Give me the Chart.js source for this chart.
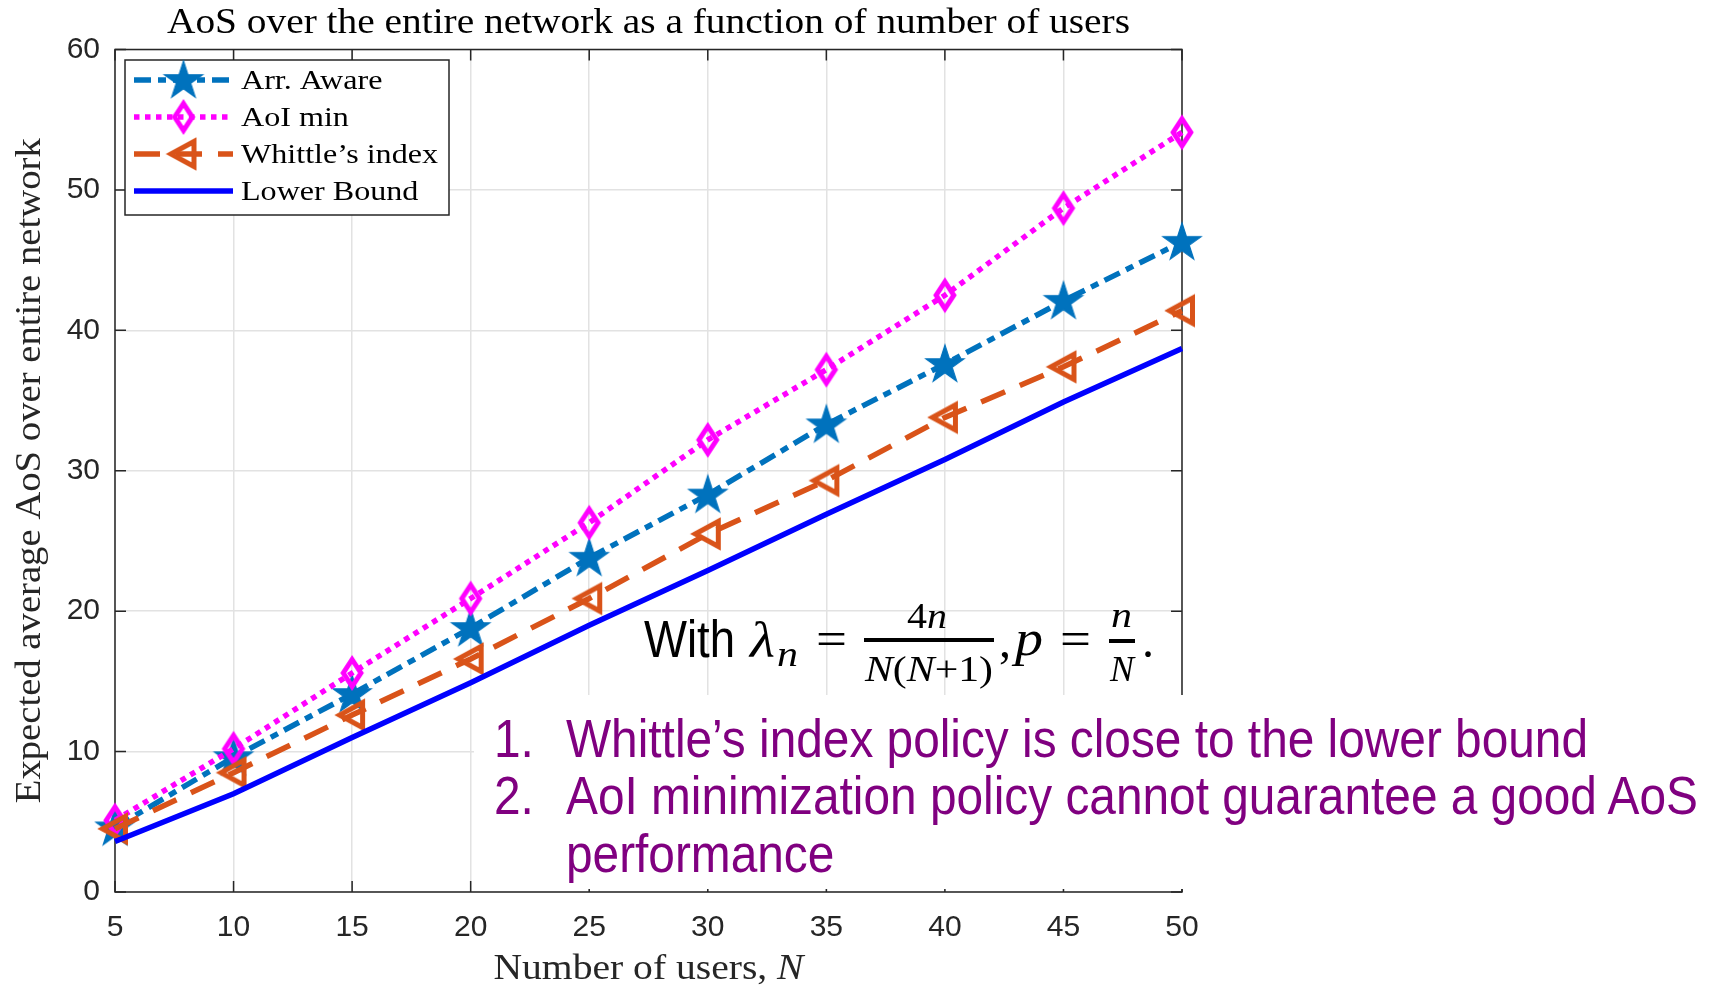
<!DOCTYPE html>
<html><head><meta charset="utf-8">
<script src="https://cdn.jsdelivr.net/npm/chart.js@4.4.1/dist/chart.umd.min.js"></script>
<style>
html,body{margin:0;padding:0;background:#fff;overflow:hidden;}
#wrap{position:relative;width:1709px;height:988px;background:#fff;}
#c{position:absolute;left:0;top:0;}
.t{position:absolute;white-space:nowrap;line-height:1;transform-origin:0 0;}
</style></head>
<body>
<div id="wrap"><canvas id="c" width="1709" height="988"></canvas>
<div id="notebox" style="position:absolute;left:474px;top:695px;width:1235px;height:194px;background:#fff;"></div>
</div>
<script>
// ---------------- data ----------------
const users = [5, 10, 15, 20, 25, 30, 35, 40, 45, 50];
const arrAware = [4.6, 9.6, 14.1, 18.8, 23.8, 28.3, 33.3, 37.6, 42.1, 46.3];
const aoiMin = [5.1, 10.2, 15.6, 20.9, 26.3, 32.2, 37.2, 42.5, 48.7, 54.1];
const whittle = [4.5, 8.5, 12.6, 16.6, 20.9, 25.5, 29.3, 33.8, 37.4, 41.4];
const lowerBound = [3.6, 7.0, 11.0, 14.9, 19.0, 22.9, 26.9, 30.8, 34.9, 38.7];
const xTicks = [5, 10, 15, 20, 25, 30, 35, 40, 45, 50];
const yTicks = [0, 10, 20, 30, 40, 50, 60];
const seriesNames = ['Arr. Aware', 'AoI min', 'Whittle\u2019s index', 'Lower Bound'];
const titleText = 'AoS over the entire network as a function of number of users';
const xTitleText = 'Number of users, ';
const xTitleVar = 'N';
const yTitleText = 'Expected average AoS over entire network';
const notes = ['Whittle\u2019s index policy is close to the lower bound',
               'AoI minimization policy cannot guarantee a good AoS',
               'performance'];

// ---------------- markers ----------------
function makeStar(color) {
  const s = 48, c = document.createElement('canvas'); c.width = c.height = s;
  const g = c.getContext('2d'); const R = 20, r = R * 0.382;
  g.translate(s / 2, s / 2 + 1);
  g.beginPath();
  for (let i = 0; i < 10; i++) {
    const a = -Math.PI / 2 + i * Math.PI / 5, rr = i % 2 ? r : R;
    g.lineTo(rr * Math.cos(a), rr * Math.sin(a));
  }
  g.closePath(); g.fillStyle = color; g.fill();
  g.lineWidth = 1.2; g.strokeStyle = color; g.stroke();
  return c;
}
function makeDiamond(color) {
  const w = 34, h = 46, c = document.createElement('canvas'); c.width = w; c.height = h;
  const g = c.getContext('2d'); g.translate(w / 2, h / 2);
  g.beginPath(); g.moveTo(0, -13.5); g.lineTo(8.8, 0); g.lineTo(0, 13.5); g.lineTo(-8.8, 0); g.closePath();
  g.lineWidth = 5; g.lineJoin = 'miter'; g.miterLimit = 10; g.strokeStyle = color; g.stroke();
  return c;
}
function makeTri(color) {
  const s = 42, c = document.createElement('canvas'); c.width = c.height = s;
  const g = c.getContext('2d'); g.translate(s / 2, s / 2);
  g.beginPath(); g.moveTo(-12.5, 0); g.lineTo(10.5, -12.5); g.lineTo(10.5, 12.5); g.closePath();
  g.lineWidth = 5; g.lineJoin = 'miter'; g.miterLimit = 10; g.strokeStyle = color; g.stroke();
  return c;
}
const cBlue = '#0072BD', cMag = '#FF00FF', cOr = '#D95319', cLB = '#0000FF';
const starImg = makeStar(cBlue), diaImg = makeDiamond(cMag), triImg = makeTri(cOr);

const toPts = arr => users.map((x, i) => ({ x: x, y: arr[i] }));

// ---------------- text helpers ----------------
function measureParts(ctx, parts, size) {
  let w = 0;
  parts.forEach(p => { ctx.font = (p.italic ? 'italic ' : '') + size + 'px "Liberation Serif"'; p.w = ctx.measureText(p.t).width; w += p.w; });
  return w;
}
function drawStretched(ctx, parts, x, y, size, target, align, rot) {
  ctx.save();
  const w = measureParts(ctx, parts, size);
  const sx = target ? target / w : 1;
  ctx.translate(x, y); if (rot) ctx.rotate(rot); ctx.scale(sx, 1);
  let cx = align === 'center' ? -w / 2 : 0;
  ctx.textAlign = 'left'; ctx.textBaseline = 'alphabetic';
  parts.forEach(p => { ctx.font = (p.italic ? 'italic ' : '') + size + 'px "Liberation Serif"'; ctx.fillText(p.t, cx, 0); cx += p.w; });
  ctx.restore();
}

const frame = {
  id: 'frame',
  beforeDatasetsDraw(chart) {
    const { ctx, chartArea: a, scales } = chart;
    ctx.save();
    ctx.strokeStyle = '#262626'; ctx.lineWidth = 1.5;
    ctx.strokeRect(a.left, a.top, a.right - a.left, a.bottom - a.top);
    const tl = 11;
    ctx.beginPath();
    xTicks.forEach(v => { const p = scales.x.getPixelForValue(v);
      ctx.moveTo(p, a.bottom); ctx.lineTo(p, a.bottom - tl); ctx.moveTo(p, a.top); ctx.lineTo(p, a.top + tl); });
    yTicks.forEach(v => { const p = scales.y.getPixelForValue(v);
      ctx.moveTo(a.left, p); ctx.lineTo(a.left + tl, p); ctx.moveTo(a.right, p); ctx.lineTo(a.right - tl, p); });
    ctx.stroke();
    ctx.restore();
  },
  afterDraw(chart) {
    const { ctx, chartArea: a } = chart;
    const cx = (a.left + a.right) / 2;
    ctx.save();
    ctx.fillStyle = '#000';
    drawStretched(ctx, [{ t: titleText }], cx, 33, 35, 963, 'center');
    ctx.fillStyle = '#262626';
    drawStretched(ctx, [{ t: xTitleText }, { t: xTitleVar, italic: true }], cx, 979, 35, 310, 'center');
    drawStretched(ctx, [{ t: yTitleText }], 40, (a.top + a.bottom) / 2, 35, 665, 'center', -Math.PI / 2);
    // legend
    const L = { x: 125, y: 60, w: 324, h: 155 };
    ctx.fillStyle = '#fff'; ctx.fillRect(L.x, L.y, L.w, L.h);
    ctx.strokeStyle = '#262626'; ctx.lineWidth = 1.5; ctx.strokeRect(L.x, L.y, L.w, L.h);
    const rowsY = [80, 117, 154, 191];
    const ds = chart.data.datasets;
    const fs = 28;
    const sx = 197 / measureParts(ctx, [{ t: seriesNames[2] }], fs);
    ds.forEach((d, i) => {
      const y = rowsY[i];
      ctx.save();
      ctx.strokeStyle = d.borderColor; ctx.lineWidth = d.borderWidth;
      ctx.setLineDash(d.borderDash || []); ctx.lineCap = 'butt';
      ctx.beginPath(); ctx.moveTo(134, y); ctx.lineTo(233, y); ctx.stroke();
      ctx.restore();
      if (d.pointRadius > 0 && d.pointStyle && d.pointStyle.width) {
        const im = d.pointStyle; ctx.drawImage(im, 183.5 - im.width / 2, y - im.height / 2);
      }
      ctx.fillStyle = '#000';
      const w = measureParts(ctx, [{ t: seriesNames[i] }], fs) * sx;
      drawStretched(ctx, [{ t: seriesNames[i] }], 241, y + 9, fs, w, 'left');
    });
    ctx.restore();
  }
};

const chart = new Chart(document.getElementById('c'), {
  type: 'line',
  data: {
    datasets: [
      { label: seriesNames[0], data: toPts(arrAware), borderColor: cBlue, backgroundColor: cBlue, borderWidth: 5.5,
        borderDash: [17, 7, 8, 7], pointStyle: starImg, pointRadius: 10, order: 4, clip: false, fill: false, tension: 0 },
      { label: seriesNames[1], data: toPts(aoiMin), borderColor: cMag, backgroundColor: cMag, borderWidth: 5.5,
        borderDash: [5.5, 5.5], pointStyle: diaImg, pointRadius: 10, order: 3, clip: false, fill: false, tension: 0 },
      { label: seriesNames[2], data: toPts(whittle), borderColor: cOr, backgroundColor: cOr, borderWidth: 5.5,
        borderDash: [26, 16], pointStyle: triImg, pointRadius: 10, order: 2, clip: false, fill: false, tension: 0 },
      { label: seriesNames[3], data: toPts(lowerBound), borderColor: cLB, backgroundColor: cLB, borderWidth: 5.5,
        pointRadius: 0, order: 1, clip: false, fill: false, tension: 0 }
    ]
  },
  options: {
    responsive: false, animation: false, devicePixelRatio: 1, events: [],
    layout: { padding: { top: 49.5, right: 527, bottom: 0, left: 0 } },
    plugins: { legend: { display: false }, tooltip: { enabled: false }, title: { display: false } },
    scales: {
      x: {
        type: 'linear', min: 5, max: 50,
        afterBuildTicks: s => { s.ticks = xTicks.map(v => ({ value: v })); },
        afterFit: s => { s.height = 96; s.paddingLeft = 0; s.paddingRight = 0; },
        grid: { color: '#e2e2e2', lineWidth: 1.5, drawTicks: false },
        border: { display: false },
        ticks: { autoSkip: false, maxRotation: 0, padding: 18, color: '#262626',
                 font: { family: 'Liberation Sans', size: 30 } }
      },
      y: {
        type: 'linear', min: 0, max: 60,
        afterBuildTicks: s => { s.ticks = yTicks.map(v => ({ value: v })); },
        afterFit: s => { s.width = 115; s.paddingTop = 0; s.paddingBottom = 0; },
        grid: { color: '#e2e2e2', lineWidth: 1.5, drawTicks: false },
        border: { display: false },
        ticks: { padding: 15, color: '#262626', font: { family: 'Liberation Sans', size: 30 } }
      }
    }
  },
  plugins: [frame]
});

// ---------------- HTML annotations ----------------
const wrap = document.getElementById('wrap');
const ASC = { 'Liberation Sans': 0.8465, 'Liberation Serif': 0.8375 };
function put(html, o) {
  const el = document.createElement('div');
  el.className = 't';
  el.innerHTML = html;
  el.style.fontFamily = "'" + o.family + "'";
  el.style.fontSize = o.size + 'px';
  if (o.italic) el.style.fontStyle = 'italic';
  el.style.color = o.color || '#000';
  wrap.appendChild(el);
  const w = el.getBoundingClientRect().width;
  const sx = o.width ? o.width / w : (o.sx || 1);
  const ww = w * sx;
  const left = o.align === 'center' ? o.x - ww / 2 : o.x;
  el.style.left = left + 'px';
  el.style.top = (o.y - ASC[o.family] * o.size) + 'px';
  el.style.transform = 'scaleX(' + sx + ')';
  el._sx = sx;
  return el;
}
function bar(x, y, w, h) {
  const el = document.createElement('div');
  el.style.cssText = 'position:absolute;background:#000;left:' + x + 'px;top:' + y + 'px;width:' + w + 'px;height:' + h + 'px;';
  wrap.appendChild(el);
}
const purple = '#800080';
const l1 = put(notes[0], { x: 566, y: 756.5, size: 53, family: 'Liberation Sans', color: purple, width: 1022 });
const S = l1._sx;
put('1.', { x: 494, y: 756.5, size: 53, family: 'Liberation Sans', color: purple, sx: S });
put('2.', { x: 494, y: 814, size: 53, family: 'Liberation Sans', color: purple, sx: S });
put(notes[1], { x: 566, y: 814, size: 53, family: 'Liberation Sans', color: purple, sx: S });
put(notes[2], { x: 566, y: 871.5, size: 53, family: 'Liberation Sans', color: purple, sx: S });

// formula: With λ_n = 4n / (N(N+1)), p = n / N.
put('With', { x: 644, y: 657, size: 51, family: 'Liberation Sans', width: 91 });
put('\u03BB', { x: 750, y: 657, size: 50, family: 'Liberation Serif', italic: true, width: 25 });
put('n', { x: 777, y: 666, size: 36, family: 'Liberation Serif', italic: true, width: 21 });
put('=', { x: 831.5, y: 655, size: 48, family: 'Liberation Serif', width: 31, align: 'center' });
bar(863.5, 638.2, 130, 4);
put('4<i>n</i>', { x: 927, y: 628, size: 36, family: 'Liberation Serif', align: 'center', width: 40 });
put('<i>N</i>(<i>N</i>+1)', { x: 928.5, y: 681, size: 36, family: 'Liberation Serif', align: 'center', width: 128 });
put(',', { x: 999, y: 657, size: 48, family: 'Liberation Serif' });
put('p', { x: 1015, y: 655, size: 50, family: 'Liberation Serif', italic: true, width: 28 });
put('=', { x: 1075.5, y: 655, size: 48, family: 'Liberation Serif', width: 31, align: 'center' });
bar(1108.6, 639, 26, 3.5);
put('n', { x: 1121.5, y: 627, size: 36, family: 'Liberation Serif', italic: true, align: 'center', width: 21 });
put('N', { x: 1121.5, y: 681, size: 36, family: 'Liberation Serif', italic: true, align: 'center', width: 24 });
put('.', { x: 1142, y: 657, size: 48, family: 'Liberation Serif' });
</script>
</body></html>
